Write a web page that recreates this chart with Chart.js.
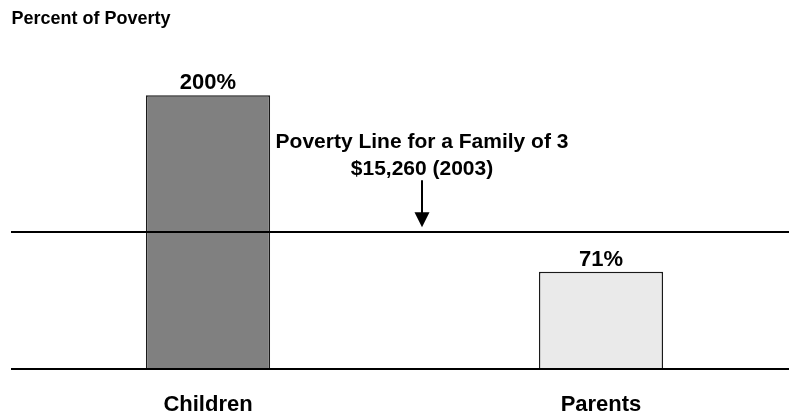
<!DOCTYPE html>
<html>
<head>
<meta charset="utf-8">
<script src="https://cdn.jsdelivr.net/npm/chart.js@4.4.1/dist/chart.umd.min.js"></script>
<style>
  html, body { margin: 0; padding: 0; background: #ffffff; overflow: hidden; }
  canvas { display: block; }
</style>
</head>
<body>
<canvas id="chart" width="800" height="416"></canvas>
<script>
// Income eligibility as a percent of the federal poverty line
const categories = ['Children', 'Parents'];
const eligibility = [200, 71];
const povertyLevel = 100;
const povertyNote = ['Poverty Line for a Family of 3', '$15,260 (2003)'];
const chartTitle = 'Percent of Poverty';
const barColors = ['#808080', '#eaeaea'];

const FONT = '"Liberation Sans", Arial, Helvetica, sans-serif';

// Reference lines at 0% and at the poverty line, value labels and the note with its arrow
const overlayPlugin = {
  id: 'povertyOverlay',
  afterDatasetsDraw(chart) {
    const ctx = chart.ctx;
    const area = chart.chartArea;
    const y = chart.scales.y;
    const x0 = area.left - 0.5;
    const x1 = chart.width;

    ctx.save();
    ctx.strokeStyle = '#000000';
    ctx.lineWidth = 2;
    [0, povertyLevel].forEach(v => {
      const py = Math.round(y.getPixelForValue(v));
      ctx.beginPath();
      ctx.moveTo(x0, py);
      ctx.lineTo(x1, py);
      ctx.stroke();
    });

    // bar value labels
    ctx.fillStyle = '#000000';
    ctx.font = 'bold 22px ' + FONT;
    ctx.textAlign = 'center';
    ctx.textBaseline = 'alphabetic';
    const meta = chart.getDatasetMeta(0);
    meta.data.forEach((bar, i) => {
      ctx.fillText(eligibility[i] + '%', bar.x, bar.y - 6);
    });

    // poverty line note with arrow
    const lineY = y.getPixelForValue(povertyLevel);
    const nx = 422;
    ctx.font = 'bold 21px ' + FONT;
    ctx.fillText(povertyNote[0], nx, lineY - 84);
    ctx.fillText(povertyNote[1], nx, lineY - 57);

    ctx.lineWidth = 2;
    ctx.beginPath();
    ctx.moveTo(nx, lineY - 52);
    ctx.lineTo(nx, lineY - 18);
    ctx.stroke();
    ctx.beginPath();
    ctx.moveTo(nx - 7.5, lineY - 20);
    ctx.lineTo(nx + 7.5, lineY - 20);
    ctx.lineTo(nx, lineY - 5);
    ctx.closePath();
    ctx.fill();
    ctx.restore();
  }
};

new Chart(document.getElementById('chart'), {
  type: 'bar',
  data: {
    labels: categories,
    datasets: [{
      data: eligibility,
      backgroundColor: barColors,
      borderColor: '#1a1a1a',
      borderWidth: 1.5,
      borderSkipped: 'bottom',
      barPercentage: 0.316,
      categoryPercentage: 1
    }]
  },
  options: {
    responsive: false,
    animation: false,
    devicePixelRatio: 1,
    layout: { padding: { left: 11.5, right: 2.5, top: 0, bottom: 1 } },
    plugins: {
      legend: { display: false },
      tooltip: { enabled: false },
      title: {
        display: true,
        text: chartTitle,
        align: 'start',
        color: '#000000',
        font: { family: FONT, size: 18, weight: 'bold', lineHeight: 1.2 },
        padding: { top: 8, bottom: 0 }
      }
    },
    scales: {
      x: {
        grid: { display: false, drawTicks: false },
        border: { display: false },
        ticks: {
          color: '#000000',
          padding: 25,
          font: { family: FONT, size: 22, weight: 'bold', lineHeight: 1 }
        },
        afterFit(scale) { scale.height = 46; }
      },
      y: {
        display: false,
        min: 0,
        max: 248
      }
    }
  },
  plugins: [overlayPlugin]
});
</script>
</body>
</html>
